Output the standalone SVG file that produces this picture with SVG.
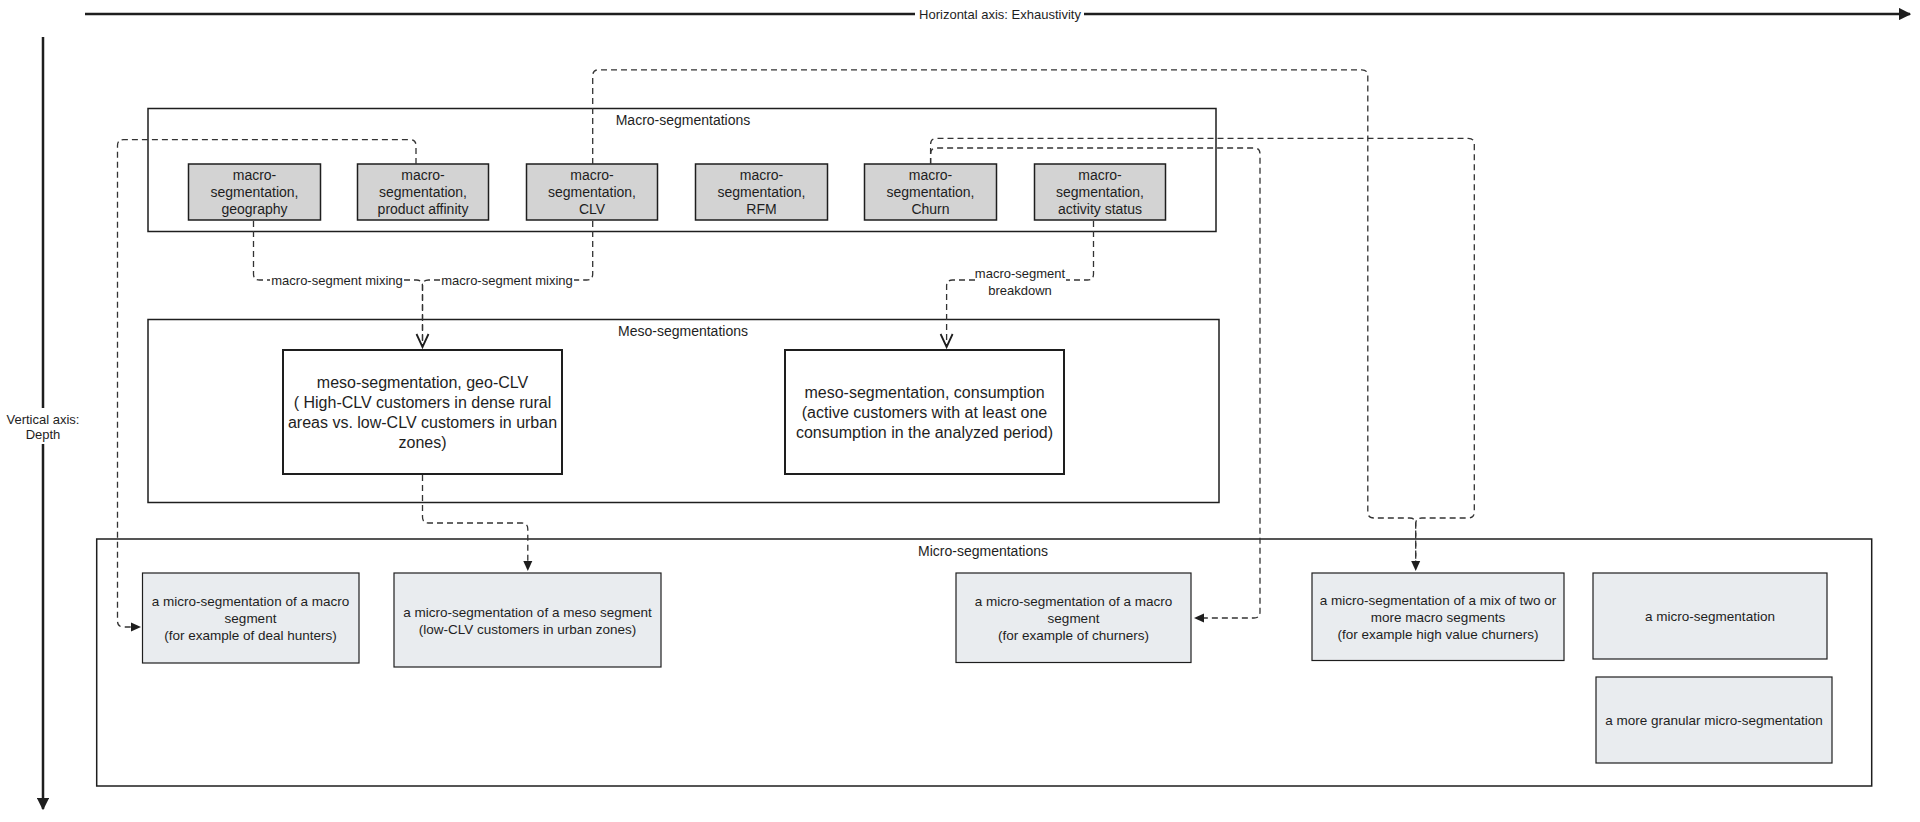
<svg xmlns="http://www.w3.org/2000/svg" width="1920" height="822" viewBox="0 0 1920 822">
<defs>
<style>
text{font-family:"Liberation Sans",Arial,sans-serif;fill:#1e1e1e;text-anchor:middle;dominant-baseline:central}
.axis{stroke:#1e1e1e;stroke-width:2.5;fill:none}
.cont{fill:none;stroke:#1e1e1e;stroke-width:1.5}
.ctitle{font-size:14px}
.macro rect{fill:#d3d3d3;stroke:#1e1e1e;stroke-width:1.5}
.macro text{font-size:14px}
.meso rect{fill:#ffffff;stroke:#1e1e1e;stroke-width:2}
.meso text{font-size:16px}
.micro rect{fill:#e9ecef;stroke:#1e1e1e;stroke-width:1.2}
.micro text{font-size:13.5px}
.conn{fill:none;stroke:#333;stroke-width:1.3;stroke-dasharray:6 4}
.lbl{font-size:13px}
.chev{fill:none;stroke:#1e1e1e;stroke-width:1.8}
.tri{fill:#1e1e1e}
</style>
<marker id="axhead" viewBox="0 0 10 10" refX="9" refY="5" markerWidth="5" markerHeight="5" orient="auto" markerUnits="strokeWidth">
<path d="M0,0 L10,5 L0,10 z" fill="#1e1e1e"/>
</marker>
</defs>
<rect width="1920" height="822" fill="#ffffff"/>

<g id="axes">
<path class="axis" d="M85,14 H915"/>
<path class="axis" d="M1084,14 H1910" marker-end="url(#axhead)"/>
<text x="1000" y="14" font-size="13">Horizontal axis: Exhaustivity</text>
<path class="axis" d="M43,37 V408"/>
<path class="axis" d="M43,444 V809" marker-end="url(#axhead)"/>
<text x="43" y="419" font-size="13">Vertical axis:</text>
<text x="43" y="434" font-size="13">Depth</text>
</g>

<g id="macro-container">
<rect class="cont" x="148" y="108.5" width="1068" height="123"/>
<text class="ctitle" x="683" y="120">Macro-segmentations</text>
</g>
<g id="meso-container">
<rect class="cont" x="148" y="319.5" width="1071" height="183"/>
<text class="ctitle" x="683" y="331">Meso-segmentations</text>
</g>
<g id="micro-container">
<rect class="cont" x="96.7" y="539" width="1775" height="247"/>
<text class="ctitle" x="983" y="551">Micro-segmentations</text>
</g>

<g id="macro-geography" class="macro">
<rect x="188.5" y="164" width="132" height="56"/>
<text x="254.5" y="175">macro-</text><text x="254.5" y="192">segmentation,</text><text x="254.5" y="209">geography</text>
</g>
<g id="macro-product" class="macro">
<rect x="357.5" y="164" width="131" height="56"/>
<text x="423" y="175">macro-</text><text x="423" y="192">segmentation,</text><text x="423" y="209">product affinity</text>
</g>
<g id="macro-clv" class="macro">
<rect x="526.5" y="164" width="131" height="56"/>
<text x="592" y="175">macro-</text><text x="592" y="192">segmentation,</text><text x="592" y="209">CLV</text>
</g>
<g id="macro-rfm" class="macro">
<rect x="695.5" y="164" width="132" height="56"/>
<text x="761.5" y="175">macro-</text><text x="761.5" y="192">segmentation,</text><text x="761.5" y="209">RFM</text>
</g>
<g id="macro-churn" class="macro">
<rect x="864.5" y="164" width="132" height="56"/>
<text x="930.5" y="175">macro-</text><text x="930.5" y="192">segmentation,</text><text x="930.5" y="209">Churn</text>
</g>
<g id="macro-activity" class="macro">
<rect x="1034.5" y="164" width="131" height="56"/>
<text x="1100" y="175">macro-</text><text x="1100" y="192">segmentation,</text><text x="1100" y="209">activity status</text>
</g>

<g id="meso-geo-clv" class="meso">
<rect x="283" y="350" width="279" height="124"/>
<text x="422.5" y="382">meso-segmentation, geo-CLV</text>
<text x="422.5" y="402">( High-CLV customers in dense rural</text>
<text x="422.5" y="422">areas vs. low-CLV customers in urban</text>
<text x="422.5" y="442">zones)</text>
</g>
<g id="meso-consumption" class="meso">
<rect x="785" y="350" width="279" height="124"/>
<text x="924.5" y="392">meso-segmentation, consumption</text>
<text x="924.5" y="412">(active customers with at least one</text>
<text x="924.5" y="432">consumption in the analyzed period)</text>
</g>

<g id="micro-macro" class="micro">
<rect x="142.5" y="573" width="216.5" height="90"/>
<text x="250.5" y="601">a micro-segmentation of a macro</text>
<text x="250.5" y="618">segment</text>
<text x="250.5" y="635">(for example of deal hunters)</text>
</g>
<g id="micro-meso" class="micro">
<rect x="394" y="573" width="267" height="94"/>
<text x="527.5" y="612">a micro-segmentation of a meso segment</text>
<text x="527.5" y="629">(low-CLV customers in urban zones)</text>
</g>
<g id="micro-churners" class="micro">
<rect x="956" y="573" width="235" height="89.5"/>
<text x="1073.5" y="601">a micro-segmentation of a macro</text>
<text x="1073.5" y="618">segment</text>
<text x="1073.5" y="635">(for example of churners)</text>
</g>
<g id="micro-mix" class="micro">
<rect x="1312" y="573" width="252" height="87.5"/>
<text x="1438" y="600">a micro-segmentation of a mix of two or</text>
<text x="1438" y="617">more macro segments</text>
<text x="1438" y="634">(for example high value churners)</text>
</g>
<g id="micro-generic" class="micro">
<rect x="1593" y="573" width="234" height="86"/>
<text x="1710" y="616">a micro-segmentation</text>
</g>
<g id="micro-granular" class="micro">
<rect x="1596" y="677" width="236" height="86"/>
<text x="1714" y="720">a more granular micro-segmentation</text>
</g>

<g id="connectors">
<path class="conn" d="M253.5,221 V274 Q253.5,280 259.5,280 H270"/>
<path class="conn" d="M404,280 H416.5 Q422.5,280 422.5,286 V346"/>
<text class="lbl" x="337" y="280">macro-segment mixing</text>
<path class="conn" d="M592.7,221 V274 Q592.7,280 586.7,280 H574"/>
<path class="conn" d="M440,280 H428.5 Q422.5,280 422.5,286 V346"/>
<text class="lbl" x="507" y="280">macro-segment mixing</text>
<path class="chev" d="M416.5,334 L422.5,347 L428.5,334"/>

<path class="conn" d="M1093.5,221 V274 Q1093.5,280 1087.5,280 H1066"/>
<path class="conn" d="M975,280 H952.6 Q946.6,280 946.6,286 V346"/>
<text class="lbl" x="1020" y="273">macro-segment</text>
<text class="lbl" x="1020" y="290">breakdown</text>
<path class="chev" d="M940.6,334 L946.6,347 L952.6,334"/>

<path class="conn" d="M422.5,475 V517 Q422.5,523 428.5,523 H521.8 Q527.8,523 527.8,529 V562"/>
<path class="tri" d="M523.3,561 L532.3,561 L527.8,571 z"/>

<path class="conn" d="M416,164 V145.6 Q416,139.6 410,139.6 H123.5 Q117.5,139.6 117.5,145.6 V621 Q117.5,627 123.5,627 H132"/>
<path class="tri" d="M131,622.5 L131,631.5 L141,627 z"/>

<path class="conn" d="M592.7,164 V75.8 Q592.7,69.8 598.7,69.8 H1361.8 Q1367.8,69.8 1367.8,75.8 V512 Q1367.8,518 1373.8,518 H1409.7 Q1415.7,518 1415.7,524 V562"/>
<path class="conn" d="M930.6,164 V144.4 Q930.6,138.4 936.6,138.4 H1468.3 Q1474.3,138.4 1474.3,144.4 V512 Q1474.3,518 1468.3,518 H1421.7 Q1415.7,518 1415.7,524 V562"/>
<path class="tri" d="M1411.2,561 L1420.2,561 L1415.7,571 z"/>

<path class="conn" d="M930.6,164 V154 Q930.6,148 936.6,148 H1254 Q1260,148 1260,154 V612 Q1260,618 1254,618 H1203"/>
<path class="tri" d="M1204,613.5 L1204,622.5 L1194,618 z"/>
</g>
</svg>
